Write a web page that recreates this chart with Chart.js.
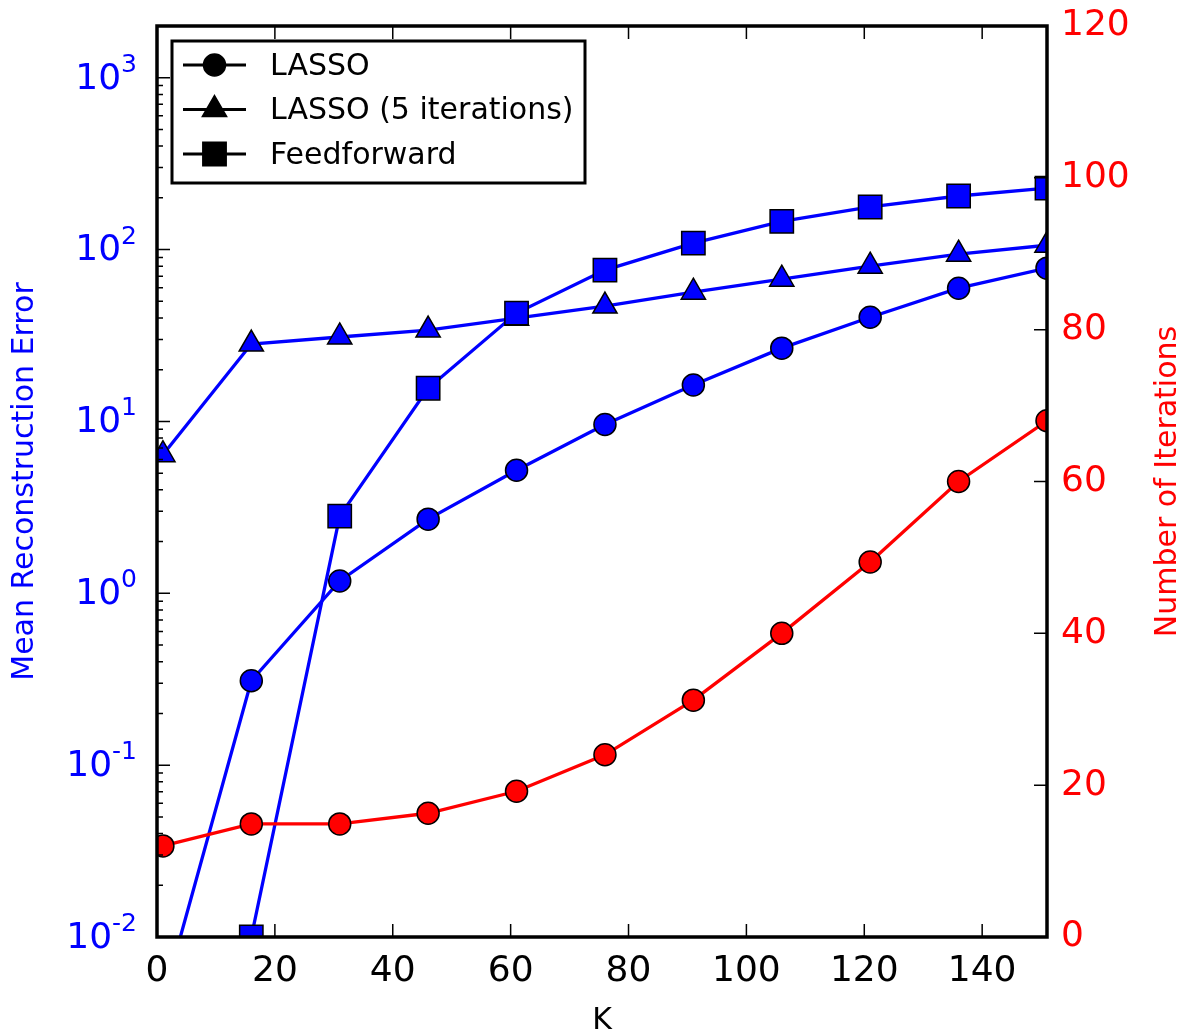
<!DOCTYPE html>
<html>
<head>
<meta charset="utf-8">
<script src="https://cdn.jsdelivr.net/npm/chart.js@4.4.0/dist/chart.umd.min.js"></script>
<style>
  html, body { margin: 0; padding: 0; background: #fff; }
  #wrap { width: 1183px; height: 1036px; }
</style>
</head>
<body>
<div id="wrap"><canvas id="chart" width="1183" height="1036"></canvas></div>
<script>
// ---- data ----
const kValues = [1, 16, 31, 46, 61, 76, 91, 106, 121, 136, 151];
const lassoError = [0.0043, 0.31, 1.18, 2.7, 5.2, 9.6, 16.3, 26.7, 40.4, 59.6, 78];
const lasso5Error = [6.4, 28.2, 31, 34, 39.9, 46.9, 56.5, 67.3, 80, 94, 106];
const feedforwardError = [null, 0.01, 2.81, 15.6, 42.7, 76, 109, 146, 177, 205, 228];
const lassoIterations = [12.0, 14.9, 14.9, 16.3, 19.2, 24.0, 31.2, 40.0, 49.4, 60.0, 68.0];

// ---- axis ticks ----
const xTicks = [0, 20, 40, 60, 80, 100, 120, 140];
const errorExponents = [-2, -1, 0, 1, 2, 3];
const iterTicks = [0, 20, 40, 60, 80, 100, 120];

const FONT = "'DejaVu Sans', sans-serif";
const BLUE = '#0000ff';
const RED = '#ff0000';

Chart.defaults.font.family = FONT;

// helper: pair K values with a series
function toPoints(series) {
  return kValues.map((k, i) => ({ x: k, y: series[i] }));
}

// Frame, inward ticks, log labels, axis titles and legend
const decorPlugin = {
  id: 'decor',
  afterDatasetsDraw(chart) {
    const { ctx, chartArea: a, scales } = chart;
    const x = scales.x, y = scales.y, y1 = scales.y1;
    ctx.save();

    // inward tick marks
    ctx.strokeStyle = '#000';
    ctx.lineWidth = 1.5;
    ctx.beginPath();
    xTicks.forEach(v => {
      const px = x.getPixelForValue(v);
      ctx.moveTo(px, a.bottom); ctx.lineTo(px, a.bottom - 13);
      ctx.moveTo(px, a.top); ctx.lineTo(px, a.top + 13);
    });
    errorExponents.forEach(e => {
      for (let m = 1; m <= 9; m++) {
        const v = m * Math.pow(10, e);
        if (v > y.max) break;
        const py = y.getPixelForValue(v);
        ctx.moveTo(a.left, py); ctx.lineTo(a.left + (m === 1 ? 13 : 6), py);
      }
    });
    iterTicks.forEach(v => {
      const py = y1.getPixelForValue(v);
      ctx.moveTo(a.right, py); ctx.lineTo(a.right - 13, py);
    });
    ctx.stroke();

    // axes frame
    ctx.lineWidth = 3.5;
    ctx.strokeRect(a.left, a.top, a.right - a.left, a.bottom - a.top);

    // log tick labels 10^n
    ctx.fillStyle = BLUE;
    errorExponents.forEach(e => {
      const py = y.getPixelForValue(Math.pow(10, e));
      const exp = String(e);
      ctx.font = `25px ${FONT}`;
      const ew = ctx.measureText(exp).width;
      ctx.textAlign = 'right';
      ctx.textBaseline = 'alphabetic';
      ctx.fillText(exp, 137, py - 6);
      ctx.font = `36px ${FONT}`;
      ctx.textBaseline = 'middle';
      ctx.fillText('10', 137 - ew, py + 1.5);
    });

    // axis titles
    ctx.font = `30px ${FONT}`;
    ctx.textAlign = 'center';
    ctx.textBaseline = 'middle';
    ctx.fillStyle = '#000';
    ctx.fillText('K', (a.left + a.right) / 2, 1021);

    const midY = (a.top + a.bottom) / 2;
    ctx.save();
    ctx.translate(25, midY);
    ctx.rotate(-Math.PI / 2);
    ctx.fillStyle = BLUE;
    ctx.fillText('Mean Reconstruction Error', 0, 0);
    ctx.restore();

    ctx.save();
    ctx.translate(1168, midY);
    ctx.rotate(-Math.PI / 2);
    ctx.fillStyle = RED;
    ctx.fillText('Number of Iterations', 0, 0);
    ctx.restore();

    // legend box
    const box = { left: 172, top: 41, right: 585, bottom: 183 };
    ctx.fillStyle = '#fff';
    ctx.fillRect(box.left, box.top, box.right - box.left, box.bottom - box.top);
    ctx.strokeStyle = '#000';
    ctx.lineWidth = 3;
    ctx.strokeRect(box.left, box.top, box.right - box.left, box.bottom - box.top);

    const entries = chart.data.datasets.filter(d => d.yAxisID === 'y').reverse();
    entries.forEach((d, i) => {
      const ry = box.top + 24 + i * 44.5;
      ctx.strokeStyle = '#000';
      ctx.lineWidth = 3;
      ctx.beginPath();
      ctx.moveTo(183, ry); ctx.lineTo(246, ry);
      ctx.stroke();
      ctx.fillStyle = '#000';
      ctx.lineWidth = 1.5;
      Chart.helpers.drawPoint(ctx, {
        pointStyle: d.pointStyle, radius: d.pointRadius, rotation: 0, borderWidth: 1.5
      }, 214.5, ry);
      ctx.font = `30px ${FONT}`;
      ctx.textAlign = 'left';
      ctx.textBaseline = 'middle';
      ctx.fillText(d.label, 270, ry + 2);
    });

    ctx.restore();
  }
};

function lineSet(label, series, axis, color, style, radius) {
  return {
    label,
    data: toPoints(series),
    yAxisID: axis,
    borderColor: color,
    backgroundColor: color,
    borderWidth: 3.3,
    pointStyle: style,
    pointRadius: radius,
    pointHoverRadius: radius,
    pointBackgroundColor: color,
    pointBorderColor: '#000',
    pointBorderWidth: 1.5,
    tension: 0,
    clip: 0,
  };
}

// zero out the label overhang paddings so the plot area sits where we want
function fixBox(w, h) {
  return s => {
    if (w !== null) s.width = w;
    if (h !== null) s.height = h;
    s.paddingTop = 0; s.paddingBottom = 0;
    s.paddingLeft = 0; s.paddingRight = 0;
  };
}

new Chart(document.getElementById('chart').getContext('2d'), {
  type: 'line',
  data: {
    datasets: [
      lineSet('Iterations', lassoIterations, 'y1', RED, 'circle', 11),
      lineSet('Feedforward', feedforwardError, 'y', BLUE, 'rect', 16.5),
      lineSet('LASSO (5 iterations)', lasso5Error, 'y', BLUE, 'triangle', 14),
      lineSet('LASSO', lassoError, 'y', BLUE, 'circle', 11),
    ]
  },
  options: {
    responsive: false,
    animation: false,
    devicePixelRatio: 1,
    layout: { padding: { top: 26, left: 0, right: 0, bottom: 0 } },
    plugins: {
      legend: { display: false },
      tooltip: { enabled: false },
    },
    scales: {
      x: {
        type: 'linear',
        position: 'bottom',
        min: 0,
        max: 151,
        grid: { display: false, drawTicks: false },
        border: { display: false },
        ticks: { color: '#000', font: { size: 36 }, padding: 13, maxRotation: 0, autoSkip: false },
        afterBuildTicks: s => { s.ticks = xTicks.map(v => ({ value: v })); },
        afterFit: fixBox(null, 99),
      },
      y: {
        type: 'logarithmic',
        position: 'left',
        min: 0.01,
        max: 2000,
        grid: { display: false, drawTicks: false },
        border: { display: false },
        ticks: { display: false },
        afterFit: fixBox(157, null),
      },
      y1: {
        type: 'linear',
        position: 'right',
        min: 0,
        max: 120,
        grid: { display: false, drawTicks: false },
        border: { display: false },
        ticks: { color: RED, font: { size: 36 }, padding: 14, autoSkip: false },
        afterBuildTicks: s => { s.ticks = iterTicks.map(v => ({ value: v })); },
        afterFit: fixBox(136, null),
      },
    }
  },
  plugins: [decorPlugin]
});
</script>
</body>
</html>
